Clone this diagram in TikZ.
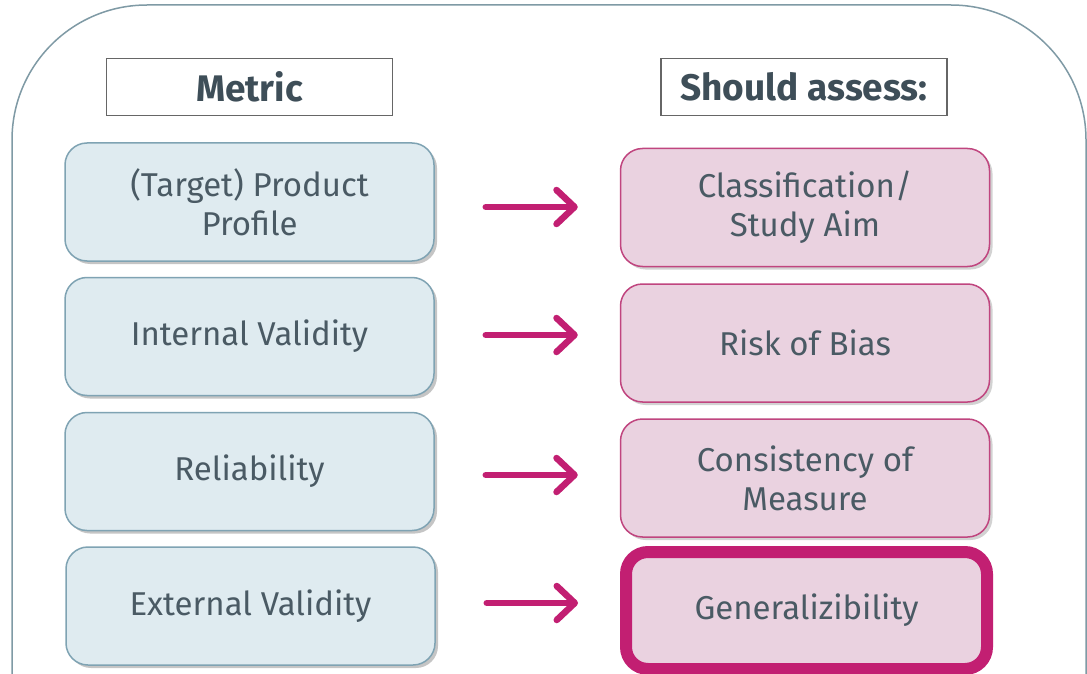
\documentclass[tikz,border=0pt]{standalone}
\usepackage{fontspec}
\setmainfont{Fira Sans}
\usetikzlibrary{arrows.meta,shadows}
\definecolor{txt}{HTML}{4A5A64}
\definecolor{hdr}{HTML}{3E4E58}
\definecolor{framec}{HTML}{7F9AA5}
\definecolor{bluefill}{HTML}{DFEBF0}
\definecolor{blueline}{HTML}{7FA3B3}
\definecolor{pinkfill}{HTML}{EAD2E0}
\definecolor{pinkline}{HTML}{C0457F}
\definecolor{magenta}{HTML}{C21F72}
\tikzset{
  hdrbox/.style={draw=gray!80!black, line width=1.2pt, fill=white, minimum width=286pt, minimum height=57pt,
    inner sep=0pt, text=hdr, font=\fontsize{37}{40}\selectfont\bfseries},
  metricbox/.style={draw=blueline, line width=1.5pt, fill=bluefill, rounded corners=22pt,
    minimum width=369pt, minimum height=118pt, align=center, inner sep=0pt, text=txt,
    font=\fontsize{33}{39}\selectfont,
    drop shadow={shadow xshift=3pt, shadow yshift=-3pt, opacity=0.45, fill=gray}},
  assessbox/.style={draw=pinkline, line width=1.5pt, fill=pinkfill, rounded corners=22pt,
    minimum width=369pt, minimum height=118pt, align=center, inner sep=0pt, text=txt,
    font=\fontsize{33}{39}\selectfont,
    drop shadow={shadow xshift=3pt, shadow yshift=-3pt, opacity=0.35, fill=gray}},
  keybox/.style={assessbox, draw=magenta, line width=12pt, minimum width=361pt, minimum height=117pt},
  arr/.style={draw=magenta, line width=6.5pt, line cap=round,
    -{Straight Barb[length=18pt, width=34pt, round]}, shorten <=51pt, shorten >=42pt}
}
\begin{document}
\begin{tikzpicture}[x=1pt, y=-1pt]
\useasboundingbox (0,0) rectangle (1087,674);
\clip (0,0) rectangle (1087,674);
\fill[white] (0,0) rectangle (1087,674);
% outer frame
\draw[framec, line width=1.5pt, rounded corners=135pt] (12,760) -- (12,5) -- (1086,5) -- (1086,760);

% headers
\node[hdrbox] (hm) at (249.5,87) {Metric};
\node[hdrbox] (hs) at (804,87) {Should assess:};

% metric boxes
\node[metricbox] (l1) at (249.5,202) {(Target) Product\\Profile};
\node[metricbox] (l2) at (249.5,336.5) {Internal Validity};
\node[metricbox] (l3) at (249.5,471.5) {Reliability};
\node[metricbox] (l4) at (250.5,606) {External Validity};

% assessment boxes
\node[assessbox] (r1) at (805,207.5) {Classification/\\Study Aim};
\node[assessbox] (r2) at (805,343) {Risk of Bias};
\node[assessbox] (r3) at (805,478) {Consistency of\\Measure};
\node[keybox] (r4) at (806.5,610.5) {Generalizibility};

% arrows
\draw[arr] ([yshift=-5pt]l1.east) -- ([yshift=-5pt]l1.east -| r1.west);
\draw[arr] ([yshift=1.5pt]l2.east) -- ([yshift=1.5pt]l2.east -| r2.west);
\draw[arr] ([yshift=-3.5pt]l3.east) -- ([yshift=-3.5pt]l3.east -| r3.west);
\draw[arr] ([yshift=3pt]l4.east) -- ([yshift=3pt]l4.east -| r4.west);
\end{tikzpicture}
\end{document}
